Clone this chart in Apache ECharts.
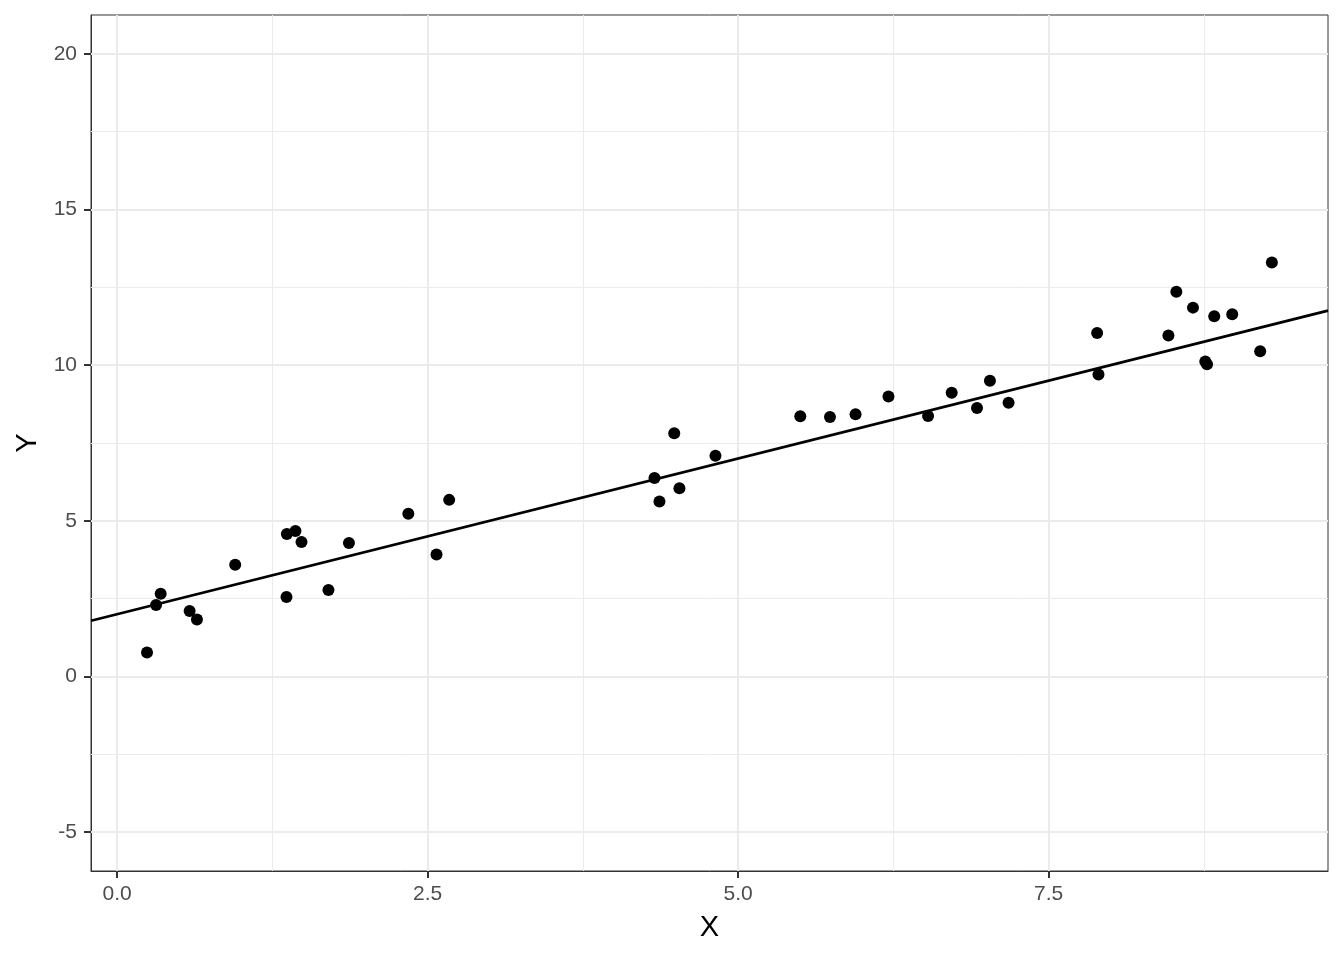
<!DOCTYPE html>
<html>
<head>
<meta charset="utf-8">
<script src="https://cdn.jsdelivr.net/npm/echarts@6/dist/echarts.min.js"></script>
<style>
html,body{margin:0;padding:0;background:#fff;}
#chart{width:1344px;height:960px;}
</style>
</head>
<body>
<div id="chart"></div>
<script>
// Data
const xValues = [0.241, 0.314, 0.351, 0.584, 0.643, 0.951, 1.367, 1.436, 1.485, 1.364,
  1.702, 1.867, 2.345, 2.674, 2.572, 4.327, 4.367, 4.486, 4.528, 4.818,
  5.501, 5.740, 5.946, 6.211, 6.530, 6.720, 6.924, 7.028, 7.178, 7.891,
  7.902, 8.465, 8.529, 8.663, 8.762, 8.776, 8.834, 8.979, 9.204, 9.298];
const yValues = [0.769, 2.298, 2.660, 2.106, 1.827, 3.590, 4.574, 4.670, 4.317, 2.554,
  2.779, 4.285, 5.224, 5.673, 3.920, 6.378, 5.619, 7.811, 6.048, 7.093,
  8.356, 8.333, 8.420, 8.997, 8.365, 9.112, 8.622, 9.497, 8.792, 11.035,
  9.702, 10.952, 12.362, 11.849, 10.119, 10.032, 11.571, 11.635, 10.449, 13.301];
const lineIntercept = 2.0;
const lineSlope = 1.0;

const xTicks = [0, 2.5, 5, 7.5];
const xMinorTicks = [1.25, 3.75, 6.25, 8.75];
const yTicks = [-5, 0, 5, 10, 15, 20];
const yMinorTicks = [-2.5, 2.5, 7.5, 12.5, 17.5];
const xRange = [-0.21, 9.75];
const yRange = [-6.25, 21.25];
const xTitle = 'X';
const yTitle = 'Y';

const points = xValues.map((x, i) => [x, yValues[i]]);
const fitLine = xRange.map(x => [x, lineIntercept + lineSlope * x]);

const FONT = '"Liberation Sans", Arial, "DejaVu Sans", sans-serif';
const GRID_COL = '#EBEBEB';

const gridLines = [];
xMinorTicks.forEach(v => gridLines.push({xAxis: v, lineStyle: {color: GRID_COL, width: 1, type: 'solid'}}));
yMinorTicks.forEach(v => gridLines.push({yAxis: v, lineStyle: {color: GRID_COL, width: 1, type: 'solid'}}));
xTicks.forEach(v => gridLines.push({xAxis: v, lineStyle: {color: GRID_COL, width: 2, type: 'solid'}}));
yTicks.forEach(v => gridLines.push({yAxis: v, lineStyle: {color: GRID_COL, width: 2, type: 'solid'}}));

const chart = echarts.init(document.getElementById('chart'), null, {renderer: 'canvas'});
chart.setOption({
  animation: false,
  backgroundColor: '#ffffff',
  grid: {
    left: 91, right: 16, top: 15, bottom: 89,
    show: true, borderColor: '#333333', borderWidth: 1, backgroundColor: '#ffffff',
    containLabel: false, outerBoundsMode: 'none'
  },
  xAxis: {
    type: 'value', min: xRange[0], max: xRange[1],
    name: xTitle, nameLocation: 'middle', nameGap: 42,
    nameTextStyle: {fontFamily: FONT, fontSize: 29, color: '#000000'},
    axisLine: {show: true, onZero: false, lineStyle: {color: '#333333', width: 1}},
    axisTick: {show: true, customValues: xTicks, length: 7, inside: false, lineStyle: {color: '#333333', width: 2}},
    axisLabel: {show: true, customValues: xTicks, margin: 13, fontFamily: FONT, fontSize: 21, color: '#4D4D4D',
      formatter: v => Number(v).toFixed(1)},
    splitLine: {show: false}
  },
  yAxis: {
    type: 'value', min: yRange[0], max: yRange[1],
    name: yTitle, nameLocation: 'middle', nameGap: 49, nameRotate: 90,
    nameTextStyle: {fontFamily: FONT, fontSize: 29, color: '#000000'},
    axisLine: {show: true, onZero: false, lineStyle: {color: '#333333', width: 1}},
    axisTick: {show: true, customValues: yTicks, length: 7, inside: false, lineStyle: {color: '#333333', width: 2}},
    axisLabel: {show: true, customValues: yTicks, margin: 14, fontFamily: FONT, fontSize: 21, color: '#4D4D4D',
      formatter: v => String(v)},
    splitLine: {show: false}
  },
  series: [
    {
      name: 'grid', type: 'line', z: 1, silent: true,
      data: [[xTicks[0], yTicks[1]]], symbol: 'none', lineStyle: {opacity: 0},
      markLine: {silent: true, z: 1, symbol: ['none', 'none'], label: {show: false}, animation: false, data: gridLines}
    },
    {
      name: 'fit', type: 'line', z: 3, data: fitLine, symbol: 'none', clip: true,
      lineStyle: {color: '#000000', width: 2.8}
    },
    {
      name: 'points', type: 'scatter', z: 4, data: points, symbol: 'circle', symbolSize: 12,
      itemStyle: {color: '#000000', opacity: 1}
    }
  ]
});
</script>
</body>
</html>
